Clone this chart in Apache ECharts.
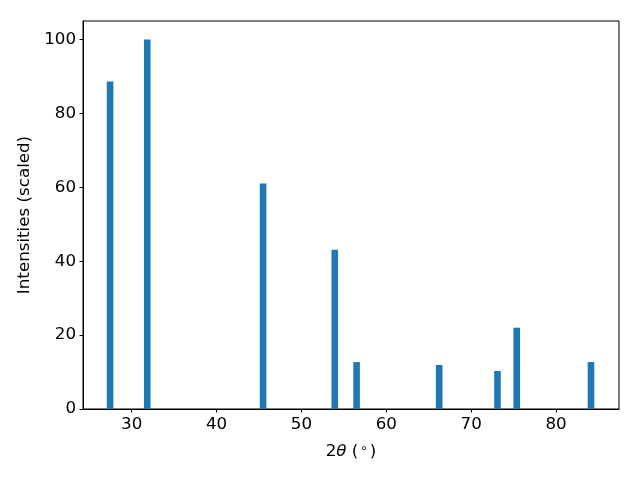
<!DOCTYPE html>
<html>
<head>
<meta charset="utf-8">
<script src="https://cdn.jsdelivr.net/npm/echarts@6/dist/echarts.min.js"></script>
<style>html,body{margin:0;padding:0;background:#fff}#c{width:640px;height:480px}</style>
</head>
<body>
<div id="c"></div>
<script>
const twoTheta = [27.45, 31.83, 45.48, 53.93, 56.50, 66.23, 73.10, 75.37, 84.12];
const intensity = [88.6, 100, 61.0, 43.1, 12.7, 11.9, 10.3, 22.0, 12.7];
const xTicks = [30, 40, 50, 60, 70, 80];
const yTicks = [0, 20, 40, 60, 80, 100];

const chart = echarts.init(document.getElementById('c'), null, {renderer: 'canvas'});
const font = 'DejaVu Sans';
const fs = 16.7;
chart.setOption({
  animation: false,
  backgroundColor: '#fff',
  textStyle: {fontFamily: font},
  grid: {left: 83, right: 21, top: 21, bottom: 71, show: true, borderColor: '#000', borderWidth: 1, backgroundColor: 'transparent'},
  xAxis: {
    type: 'value', min: 24.26, max: 87.42,
    splitLine: {show: false},
    axisLine: {show: true, onZero: false, lineStyle: {color: '#000', width: 1}},
    axisTick: {show: true, inside: false, length: 3.5, lineStyle: {color: '#000'}, customValues: xTicks},
    axisLabel: {color: '#000', fontSize: fs, margin: 7, fontFamily: font, customValues: xTicks},
    name: '2{i|θ} ({s|∘})',
    nameLocation: 'middle', nameGap: 34,
    nameTextStyle: {color: '#000', fontSize: fs, fontFamily: font,
      rich: {i: {fontStyle: 'italic', fontSize: fs, fontFamily: font, color: '#000'},
             s: {fontSize: 12, fontFamily: font, color: '#000', verticalAlign: 'top', padding: [0, 2, 6, 2]}}}
  },
  yAxis: {
    type: 'value', min: 0, max: 105,
    splitLine: {show: false},
    axisLine: {show: true, lineStyle: {color: '#000', width: 1}},
    axisTick: {show: true, inside: false, length: 3.5, lineStyle: {color: '#000'}, customValues: yTicks},
    axisLabel: {color: '#000', fontSize: fs, margin: 7, fontFamily: font, customValues: yTicks},
    name: 'Intensities (scaled)', nameLocation: 'middle', nameGap: 48, nameRotate: 90,
    nameTextStyle: {color: '#000', fontSize: fs, fontFamily: font}
  },
  series: [{
    type: 'bar',
    data: twoTheta.map((x, i) => [x, intensity[i]]),
    barWidth: 6.6,
    itemStyle: {color: '#1f77b4'}
  }]
});
</script>
</body>
</html>
